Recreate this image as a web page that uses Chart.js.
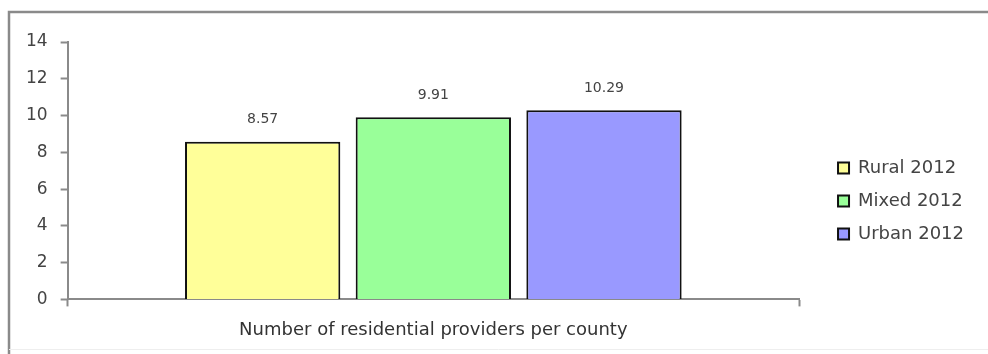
<!DOCTYPE html>
<html>
<head>
<meta charset="utf-8">
<title>Residential providers per county</title>
<script src="https://cdn.jsdelivr.net/npm/chart.js@4.4.1/dist/chart.umd.min.js"></script>
<style>
  html, body { margin: 0; padding: 0; background: #fff; }
  canvas { display: block; }
</style>
</head>
<body>
<canvas id="grafica" width="988" height="354"></canvas>
<script>
// Datos
const categorias = ['Number of residential providers per county'];
const series = ['Rural 2012', 'Mixed 2012', 'Urban 2012'];
const rural = [8.57];
const mixed = [9.91];
const urban = [10.29];
const yMin = 0, yMax = 14, yPaso = 2;

const colores = ['#FFFF99', '#99FF99', '#9999FF'];
const fuente = 'DejaVu Sans';

// Marco gris a la izquierda y arriba
const marco = {
  id: 'marco',
  beforeDraw(chart) {
    const ctx = chart.ctx;
    ctx.save();
    ctx.fillStyle = '#fff';
    ctx.fillRect(0, 0, chart.width, chart.height);
    ctx.strokeStyle = '#8a8a8a';
    ctx.lineWidth = 2.5;
    ctx.beginPath();
    ctx.moveTo(9, chart.height);
    ctx.lineTo(9, 12);
    ctx.lineTo(chart.width, 12);
    ctx.stroke();
    ctx.strokeStyle = '#eeeeee';
    ctx.lineWidth = 1;
    ctx.beginPath();
    ctx.moveTo(9, 349.5);
    ctx.lineTo(chart.width, 349.5);
    ctx.stroke();
    ctx.restore();
  }
};

// Etiquetas de valor encima de cada barra
const etiquetas = {
  id: 'etiquetas',
  afterDatasetsDraw(chart) {
    const ctx = chart.ctx;
    ctx.save();
    ctx.font = '14px "' + fuente + '"';
    ctx.fillStyle = '#444';
    ctx.textAlign = 'center';
    ctx.textBaseline = 'middle';
    chart.data.datasets.forEach((ds, i) => {
      chart.getDatasetMeta(i).data.forEach((bar, j) => {
        ctx.fillText(ds.data[j].toFixed(2), bar.x, bar.y - 22);
      });
    });
    ctx.restore();
  }
};

const datos = [rural, mixed, urban];

new Chart(document.getElementById('grafica').getContext('2d'), {
  type: 'bar',
  data: {
    labels: categorias,
    datasets: series.map((nombre, i) => ({
      label: nombre,
      data: datos[i],
      backgroundColor: colores[i],
      borderColor: '#111',
      borderWidth: 2,
      borderSkipped: 'bottom',
      categoryPercentage: 0.70,
      barPercentage: 0.91,
    })),
  },
  options: {
    responsive: false,
    animation: false,
    layout: {
      padding: { left: 13, top: 42, right: 14, bottom: 0 },
    },
    plugins: {
      tooltip: { enabled: false },
      legend: {
        position: 'right',
        title: {
          display: true,
          text: '',
          font: { size: 5 },
          padding: 0,
        },
        labels: {
          boxWidth: 11,
          boxHeight: 11,
          padding: 15,
          color: '#444',
          font: { family: fuente, size: 18 },
        },
      },
    },
    scales: {
      x: {
        grid: {
          offset: true,
          drawOnChartArea: false,
          drawTicks: true,
          tickLength: 7,
          tickColor: '#8a8a8a',
          tickWidth: 2,
        },
        border: { display: true, color: '#8a8a8a', width: 2 },
        ticks: {
          color: '#333',
          padding: 13,
          font: { family: fuente, size: 18 },
        },
      },
      y: {
        min: yMin,
        max: yMax,
        grid: {
          drawOnChartArea: false,
          drawTicks: true,
          tickLength: 7,
          tickColor: '#8a8a8a',
          tickWidth: 2,
        },
        border: { display: true, color: '#8a8a8a', width: 2 },
        ticks: {
          stepSize: yPaso,
          color: '#444',
          padding: 13,
          font: { family: fuente, size: 17 },
        },
      },
      // espacio entre el eje x y la leyenda
      hueco: {
        type: 'linear',
        position: 'right',
        display: true,
        grid: { display: false },
        border: { display: false },
        ticks: { display: false },
        afterFit(escala) { escala.width = 24; },
      },
    },
  },
  plugins: [marco, etiquetas],
});
</script>
</body>
</html>
